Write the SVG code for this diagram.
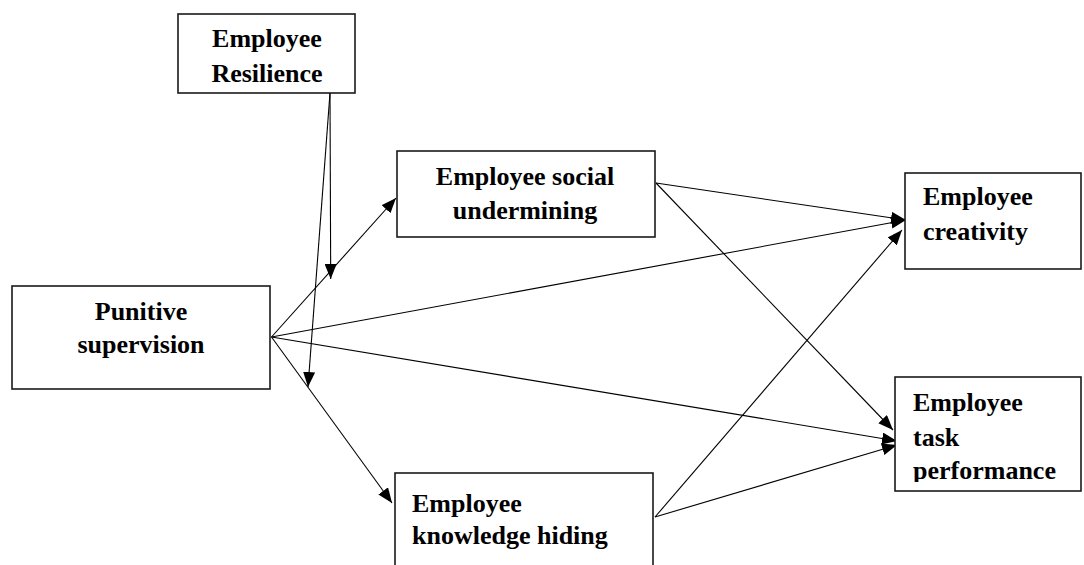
<svg xmlns="http://www.w3.org/2000/svg" width="1084" height="565" viewBox="0 0 1084 565">
  <style>
    .box { fill: #ffffff; stroke: #1a1a1a; stroke-width: 1.6; }
    .lbl { font-family: "Liberation Serif", "Times New Roman", serif; font-weight: bold; font-size: 26px; fill: #000000; }
    .c { text-anchor: middle; }
    .edge { stroke: #000000; stroke-width: 1.1; fill: none; marker-end: url(#arrow); }
  </style>
  <defs>
    <marker id="arrow" viewBox="0 0 15 12" refX="15" refY="6" markerWidth="15" markerHeight="12" markerUnits="userSpaceOnUse" orient="auto">
      <path d="M0,0 L15,6 L0,12 Z" fill="#000000"/>
    </marker>
    <clipPath id="taskClip">
      <rect x="895" y="377" width="190" height="105"/>
    </clipPath>
  </defs>
  <rect width="1084" height="565" fill="#ffffff"/>

  <g id="connectors">
    <line class="edge" x1="330" y1="93" x2="330.7" y2="279"/>
    <line class="edge" x1="330" y1="93" x2="308" y2="387"/>
    <line class="edge" x1="271.5" y1="337" x2="396" y2="198"/>
    <line class="edge" x1="271.5" y1="337" x2="392" y2="503"/>
    <line class="edge" x1="271.5" y1="337" x2="906" y2="220"/>
    <line class="edge" x1="271.5" y1="337" x2="897" y2="441"/>
    <line class="edge" x1="656" y1="183" x2="906" y2="220"/>
    <line class="edge" x1="656" y1="183" x2="893" y2="430"/>
    <line class="edge" x1="655" y1="517" x2="902" y2="230"/>
    <line class="edge" x1="655" y1="517" x2="897" y2="445"/>
  </g>

  <g id="node-resilience">
    <rect class="box" x="178" y="14" width="177" height="79"/>
    <text class="lbl c" x="267" y="47">Employee</text>
    <text class="lbl c" x="267" y="82">Resilience</text>
  </g>

  <g id="node-punitive">
    <rect class="box" x="12" y="286" width="258" height="103"/>
    <text class="lbl c" x="141" y="320">Punitive</text>
    <text class="lbl c" x="141" y="353">supervision</text>
  </g>

  <g id="node-undermining">
    <rect class="box" x="397" y="151" width="258" height="86"/>
    <text class="lbl c" x="525" y="185">Employee social</text>
    <text class="lbl c" x="525" y="219">undermining</text>
  </g>

  <g id="node-hiding">
    <rect class="box" x="395" y="473" width="258" height="110"/>
    <text class="lbl" x="412" y="512">Employee</text>
    <text class="lbl" x="412" y="544">knowledge hiding</text>
  </g>

  <g id="node-creativity">
    <rect class="box" x="905" y="173" width="176" height="96"/>
    <text class="lbl" x="923" y="205">Employee</text>
    <text class="lbl" x="923" y="240">creativity</text>
  </g>

  <g id="node-task">
    <rect class="box" x="895" y="377" width="186" height="114"/>
    <g clip-path="url(#taskClip)">
      <text class="lbl" x="913" y="411">Employee</text>
      <text class="lbl" x="913" y="446">task</text>
      <text class="lbl" x="913" y="479">performance</text>
    </g>
  </g>
</svg>
